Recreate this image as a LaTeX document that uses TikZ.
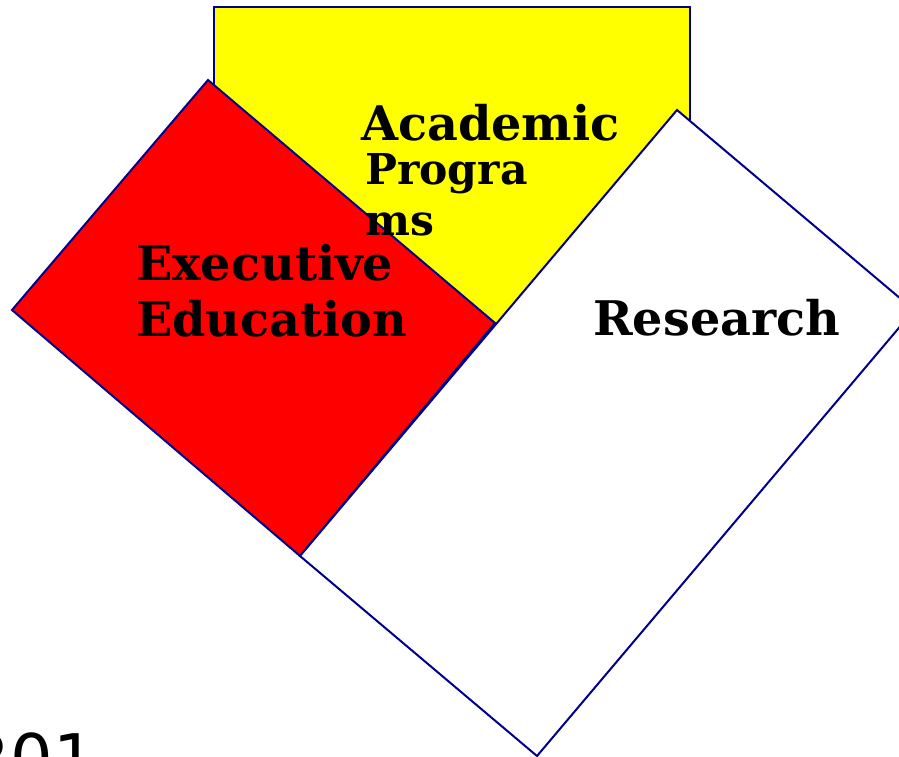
\documentclass[tikz,border=0pt]{standalone}
\usepackage{fontspec}
\setmainfont{DejaVu Serif}
\setsansfont{DejaVu Sans}
\definecolor{edgeblue}{RGB}{0,0,140}
\definecolor{panelyellow}{RGB}{255,255,0}
\definecolor{panelred}{RGB}{255,0,0}
\begin{document}
\begin{tikzpicture}[
				x=1pt,
				y=-1pt,
				line join=miter,
				panel/.style={draw=edgeblue, line width=2pt},
				caption/.style={anchor=base west, inner sep=0pt, font=\bfseries\fontsize{47.7}{56}\selectfont}
			]

			% Frame
			\clip (0,0) rectangle (899,756);
			\fill[white] (0,0) rectangle (899,756);

			% Yellow panel (behind)
			\draw[panel, fill=panelyellow] (214,7) rectangle (690,390);

			% Red diamond
			\draw[panel, fill=panelred]
			(208,80) -- (495,323) -- (300,556) -- (12,310) -- cycle;

			% White diamond
			\draw[panel, fill=white]
			(677,110) -- (914,310) -- (537,756) -- (300,556) -- cycle;

			% Labels
			\node[caption] (academic) at (361,140) {Academic};
			\node[caption, font=\bfseries\fontsize{42.5}{50}\selectfont] (progra) at (365,184) {Progra};
			\node[caption, font=\bfseries\fontsize{42.5}{50}\selectfont] (ms) at (365,235) {ms};
			\node[caption] (executive) at (136,280) {Executive};
			\node[caption] (education) at (136,336) {Education};
			\node[caption] (research) at (593,335) {Research};

			% Slide number, cut off
			\node[anchor=base east, inner sep=0pt, font=\sffamily\fontsize{67}{76}\selectfont] (slideno) at (96,782) {201};

		\end{tikzpicture}
\end{document}
